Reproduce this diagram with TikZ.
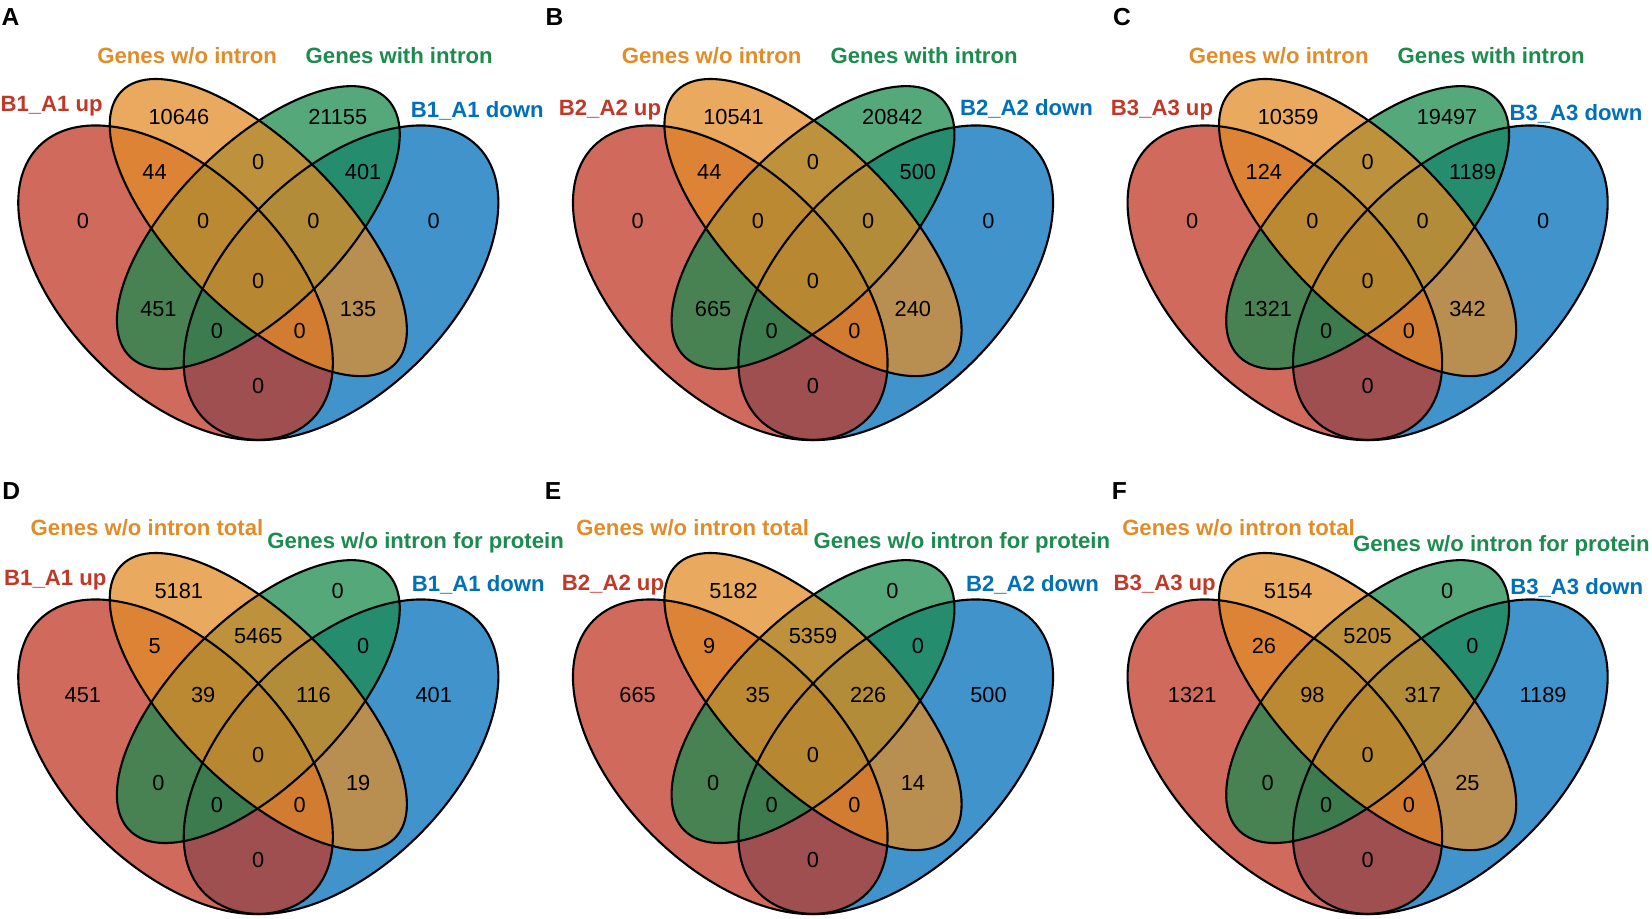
\documentclass[tikz,border=0pt]{standalone}
\usepackage{fontspec}
\setmainfont{Liberation Sans}

\definecolor{upred}{RGB}{192,56,39}
\definecolor{woorange}{RGB}{226,140,40}
\definecolor{wigreen}{RGB}{28,139,78}
\definecolor{downblue}{RGB}{0,112,186}

\tikzset{
	setfill/.style={fill=#1, fill opacity=0.75},
	setline/.style={draw=black, line width=0.6pt},
	num/.style={font=\fontsize{6.2}{7}\selectfont, inner sep=0pt, text height=1.6ex, text depth=0pt},
	setlab/.style={font=\fontsize{6.3}{7}\selectfont\bfseries, text=#1, inner sep=0pt, text height=1.6ex, text depth=0pt, yshift=0.06cm},
	panel/.style={font=\fontsize{7}{8}\selectfont\bfseries, inner sep=0pt}
}

% four ellipses of one panel, #1 = name, (#2,#3) = lower left of the unit square
\newcommand{\quadvenn}[3]{
	\begin{scope}[shift={(#2cm,#3cm)}, x=5.517cm, y=5.517cm]
		\fill[setfill=downblue] (0.65,0.47) ellipse [x radius=0.35, y radius=0.2, rotate=45];
		\fill[setfill=upred] (0.35,0.47) ellipse [x radius=0.35, y radius=0.2, rotate=135];
		\fill[setfill=wigreen] (0.5,0.57) ellipse [x radius=0.33, y radius=0.15, rotate=45];
		\fill[setfill=woorange] (0.5,0.57) ellipse [x radius=0.35, y radius=0.15, rotate=135];
		\draw[setline] (0.65,0.47) ellipse [x radius=0.35, y radius=0.2, rotate=45];
		\draw[setline] (0.35,0.47) ellipse [x radius=0.35, y radius=0.2, rotate=135];
		\draw[setline] (0.5,0.57) ellipse [x radius=0.33, y radius=0.15, rotate=45];
		\draw[setline] (0.5,0.57) ellipse [x radius=0.35, y radius=0.15, rotate=135];
		% region centres
		\coordinate (#1-o) at (0.356,0.784);
		\coordinate (#1-g) at (0.644,0.784);
		\coordinate (#1-og) at (0.5,0.702);
		\coordinate (#1-ro) at (0.312,0.684);
		\coordinate (#1-gb) at (0.69,0.684);
		\coordinate (#1-r) at (0.182,0.596);
		\coordinate (#1-rog) at (0.4,0.596);
		\coordinate (#1-ogb) at (0.6,0.596);
		\coordinate (#1-b) at (0.818,0.596);
		\coordinate (#1-rogb) at (0.5,0.487);
		\coordinate (#1-rg) at (0.319,0.436);
		\coordinate (#1-ob) at (0.681,0.436);
		\coordinate (#1-rgb) at (0.425,0.395);
		\coordinate (#1-rob) at (0.575,0.395);
		\coordinate (#1-rb) at (0.5,0.297);
	\end{scope}
}

\begin{document}
\begin{tikzpicture}
	\useasboundingbox (0,0) rectangle (16.52,9.19);

	\quadvenn{A}{-0.1755}{3.7694}
	\quadvenn{B}{5.3715}{3.7694}
	\quadvenn{C}{10.9175}{3.7694}
	\quadvenn{D}{-0.1755}{-0.9706}
	\quadvenn{E}{5.3715}{-0.9706}
	\quadvenn{F}{10.9175}{-0.9706}

	\foreach \r/\n in {o/10646, g/21155, og/0, ro/44, gb/401, r/0, rog/0, ogb/0, b/0, rogb/0, rg/451, ob/135, rgb/0, rob/0, rb/0}
		\node[num] (A-n\r) at (A-\r) {\n};
	\foreach \r/\n in {o/10541, g/20842, og/0, ro/44, gb/500, r/0, rog/0, ogb/0, b/0, rogb/0, rg/665, ob/240, rgb/0, rob/0, rb/0}
		\node[num] (B-n\r) at (B-\r) {\n};
	\foreach \r/\n in {o/10359, g/19497, og/0, ro/124, gb/1189, r/0, rog/0, ogb/0, b/0, rogb/0, rg/1321, ob/342, rgb/0, rob/0, rb/0}
		\node[num] (C-n\r) at (C-\r) {\n};
	\foreach \r/\n in {o/5181, g/0, og/5465, ro/5, gb/0, r/451, rog/39, ogb/116, b/401, rogb/0, rg/0, ob/19, rgb/0, rob/0, rb/0}
		\node[num] (D-n\r) at (D-\r) {\n};
	\foreach \r/\n in {o/5182, g/0, og/5359, ro/9, gb/0, r/665, rog/35, ogb/226, b/500, rogb/0, rg/0, ob/14, rgb/0, rob/0, rb/0}
		\node[num] (E-n\r) at (E-\r) {\n};
	\foreach \r/\n in {o/5154, g/0, og/5205, ro/26, gb/0, r/1321, rog/98, ogb/317, b/1189, rogb/0, rg/0, ob/25, rgb/0, rob/0, rb/0}
		\node[num] (F-n\r) at (F-\r) {\n};

	% set names
	\node[setlab=woorange] (A-lo) at (1.872,8.642) {Genes w/o intron};
	\node[setlab=wigreen] (A-lg) at (3.992,8.642) {Genes with intron};
	\node[setlab=upred] (A-lr) at (0.517,8.162) {B1\_A1 up};
	\node[setlab=downblue] (A-lb) at (4.773,8.105) {B1\_A1 down};

	\node[setlab=woorange] (B-lo) at (7.117,8.642) {Genes w/o intron};
	\node[setlab=wigreen] (B-lg) at (9.241,8.642) {Genes with intron};
	\node[setlab=upred] (B-lr) at (6.10,8.126) {B2\_A2 up};
	\node[setlab=downblue] (B-lb) at (10.265,8.126) {B2\_A2 down};

	\node[setlab=woorange] (C-lo) at (12.787,8.642) {Genes w/o intron};
	\node[setlab=wigreen] (C-lg) at (14.912,8.642) {Genes with intron};
	\node[setlab=upred] (C-lr) at (11.62,8.126) {B3\_A3 up};
	\node[setlab=downblue] (C-lb) at (15.76,8.073) {B3\_A3 down};

	\node[setlab=woorange] (D-lo) at (1.47,3.922) {Genes w/o intron total};
	\node[setlab=wigreen] (D-lg) at (4.156,3.796) {Genes w/o intron for protein};
	\node[setlab=upred] (D-lr) at (0.553,3.427) {B1\_A1 up};
	\node[setlab=downblue] (D-lb) at (4.783,3.364) {B1\_A1 down};

	\node[setlab=woorange] (E-lo) at (6.927,3.922) {Genes w/o intron total};
	\node[setlab=wigreen] (E-lg) at (9.619,3.796) {Genes w/o intron for protein};
	\node[setlab=upred] (E-lr) at (6.13,3.374) {B2\_A2 up};
	\node[setlab=downblue] (E-lb) at (10.325,3.364) {B2\_A2 down};

	\node[setlab=woorange] (F-lo) at (12.385,3.922) {Genes w/o intron total};
	\node[setlab=wigreen] (F-lg) at (15.014,3.764) {Genes w/o intron for protein};
	\node[setlab=upred] (F-lr) at (11.647,3.374) {B3\_A3 up};
	\node[setlab=downblue] (F-lb) at (15.767,3.331) {B3\_A3 down};

	% panel letters
	\node[panel] (pA) at (0.105,9.023) {A};
	\node[panel] (pB) at (5.545,9.023) {B};
	\node[panel] (pC) at (11.22,9.023) {C};
	\node[panel] (pD) at (0.112,4.28) {D};
	\node[panel] (pE) at (5.53,4.28) {E};
	\node[panel] (pF) at (11.194,4.28) {F};
\end{tikzpicture}
\end{document}
